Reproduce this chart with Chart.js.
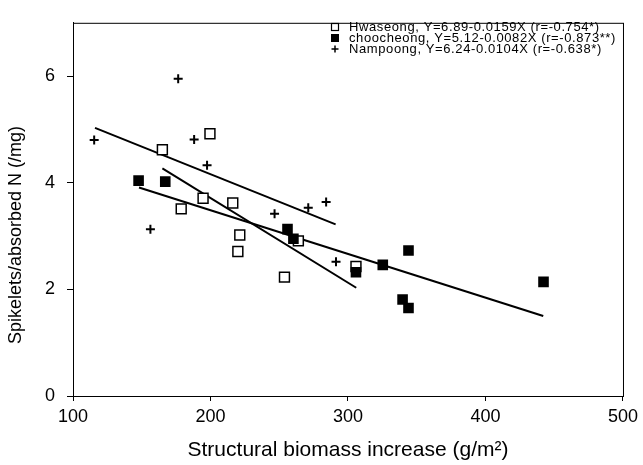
<!DOCTYPE html>
<html>
<head>
<meta charset="utf-8">
<script src="https://cdn.jsdelivr.net/npm/chart.js@4.4.1/dist/chart.umd.min.js"></script>
<style>
  html, body { margin: 0; padding: 0; background: #fff; }
  #wrap { width: 643px; height: 465px; position: relative; }
</style>
</head>
<body>
<div id="wrap"><canvas id="chart"></canvas></div>
<script>
// values
const hwaseongX = [165, 199.6, 194.6, 216.2, 178.7, 221.3, 219.9, 253.8, 263.9, 305.8];
const hwaseongY = [4.62, 4.92, 3.71, 3.62, 3.51, 3.02, 2.71, 2.23, 2.91, 2.43];
const choocheongX = [147.7, 167.1, 256, 260.3, 305.8, 325.3, 344, 339.7, 344, 442.2];
const choocheongY = [4.04, 4.02, 3.13, 2.95, 2.32, 2.46, 2.73, 1.81, 1.65, 2.14];
const nampoongX = [115.4, 176.5, 188.1, 197.5, 156.3, 246.6, 271.1, 284.1, 291.3];
const nampoongY = [4.80, 5.95, 4.81, 4.33, 3.13, 3.42, 3.53, 3.64, 2.52];

// regression line end points
const hwaseongFitX = [165, 306];
const hwaseongFitY = [4.27, 2.03];
const choocheongFitX = [148, 442];
const choocheongFitY = [3.91, 1.50];
const nampoongFitX = [116, 291];
const nampoongFitY = [5.03, 3.22];

const legendLabels = [
    'Hwaseong, Y=6.89-0.0159X (r=-0.754*)',
    'choocheong, Y=5.12-0.0082X (r=-0.873**)',
    'Nampoong, Y=6.24-0.0104X (r=-0.638*)'
];
const xTitle = 'Structural biomass increase (g/m\u00B2)';
const yTitle = 'Spikelets/absorbed N (/mg)';
const xTicks = [100, 200, 300, 400, 500];
const yTicks = [0, 2, 4, 6];

const FONT = '"Liberation Sans", Arial, sans-serif';

function toPoints(xs, ys) {
    return xs.map((x, i) => ({ x: x, y: ys[i] }));
}

function fitLine(xs, ys) {
    return {
        type: 'line',
        data: toPoints(xs, ys),
        borderColor: '#000',
        borderWidth: 2,
        pointRadius: 0,
        fill: false
    };
}

const framePlugin = {
    id: 'frame',
    afterDraw(chart) {
        const a = chart.chartArea;
        const ctx = chart.ctx;
        ctx.save();
        ctx.strokeStyle = '#000';
        ctx.lineWidth = 1;
        ctx.strokeRect(a.left + 0.5, a.top + 0.5, a.right - a.left, a.bottom - a.top);

        // y axis title, sits a bit below the middle in the original
        ctx.translate(16, 235);
        ctx.rotate(-Math.PI / 2);
        ctx.font = '18px ' + FONT;
        ctx.fillStyle = '#000';
        ctx.textAlign = 'center';
        ctx.textBaseline = 'middle';
        ctx.fillText(yTitle, 0, 0);
        ctx.restore();
    }
};

const legendPlugin = {
    id: 'sideLegend',
    afterDraw(chart) {
        const ctx = chart.ctx;
        const rows = [27, 38, 49];
        const mx = 335;
        ctx.save();
        ctx.font = '13px ' + FONT;
        ctx.letterSpacing = '0.6px';
        ctx.textBaseline = 'middle';
        legendLabels.forEach(function (label, i) {
            const y = rows[i];
            ctx.strokeStyle = '#000';
            ctx.fillStyle = '#000';
            if (i === 0) {
                ctx.lineWidth = 1.2;
                ctx.strokeRect(mx - 3.5, y - 3.5, 7, 7);
            } else if (i === 1) {
                ctx.fillRect(mx - 4, y - 4, 8, 8);
            } else {
                ctx.lineWidth = 1.5;
                ctx.beginPath();
                ctx.moveTo(mx - 3.5, y); ctx.lineTo(mx + 3.5, y);
                ctx.moveTo(mx, y - 3.5); ctx.lineTo(mx, y + 3.5);
                ctx.stroke();
            }
            ctx.fillText(label, 349, y + 0.5);
        });
        ctx.restore();
    }
};

new Chart(document.getElementById('chart').getContext('2d'), {
    type: 'scatter',
    data: {
        datasets: [
            {
                label: 'choocheong',
                data: toPoints(choocheongX, choocheongY),
                pointStyle: 'rect',
                pointRadius: 7.5,
                backgroundColor: '#000',
                borderColor: '#000',
                borderWidth: 0
            },
            {
                label: 'Hwaseong',
                data: toPoints(hwaseongX, hwaseongY),
                pointStyle: 'rect',
                pointRadius: 7,
                backgroundColor: '#fff',
                borderColor: '#000',
                borderWidth: 1.5
            },
            {
                label: 'Nampoong',
                data: toPoints(nampoongX, nampoongY),
                pointStyle: 'cross',
                pointRadius: 4.5,
                borderColor: '#000',
                borderWidth: 2
            },
            fitLine(hwaseongFitX, hwaseongFitY),
            fitLine(choocheongFitX, choocheongFitY),
            fitLine(nampoongFitX, nampoongFitY)
        ]
    },
    options: {
        responsive: true,
        maintainAspectRatio: false,
        animation: false,
        layout: { padding: { top: 10, right: 16, left: 0, bottom: 0 } },
        plugins: {
            legend: { display: false },
            tooltip: { enabled: false }
        },
        scales: {
            x: {
                type: 'linear',
                min: 100,
                max: 500,
                afterBuildTicks: function (scale) { scale.ticks = xTicks.map(v => ({ value: v })); },
                afterFit: function (scale) { scale.height = 69; },
                grid: { drawOnChartArea: false, drawTicks: true, tickLength: 5, color: '#000' },
                border: { display: true, color: '#000', width: 1 },
                ticks: { color: '#000', font: { family: FONT, size: 18 }, padding: 5, maxRotation: 0 },
                title: {
                    display: true,
                    text: xTitle,
                    color: '#000',
                    font: { family: FONT, size: 21 },
                    padding: { top: 0, bottom: 2 }
                }
            },
            y: {
                type: 'linear',
                min: 0,
                max: 7,
                afterBuildTicks: function (scale) { scale.ticks = yTicks.map(v => ({ value: v })); },
                afterFit: function (scale) { scale.width = 73; },
                grid: { drawOnChartArea: false, drawTicks: true, tickLength: 6, color: '#000' },
                border: { display: true, color: '#000', width: 1 },
                ticks: { color: '#000', font: { family: FONT, size: 18 }, padding: 12 },
                title: { display: false }
            }
        }
    },
    plugins: [framePlugin, legendPlugin]
});
</script>
</body>
</html>
